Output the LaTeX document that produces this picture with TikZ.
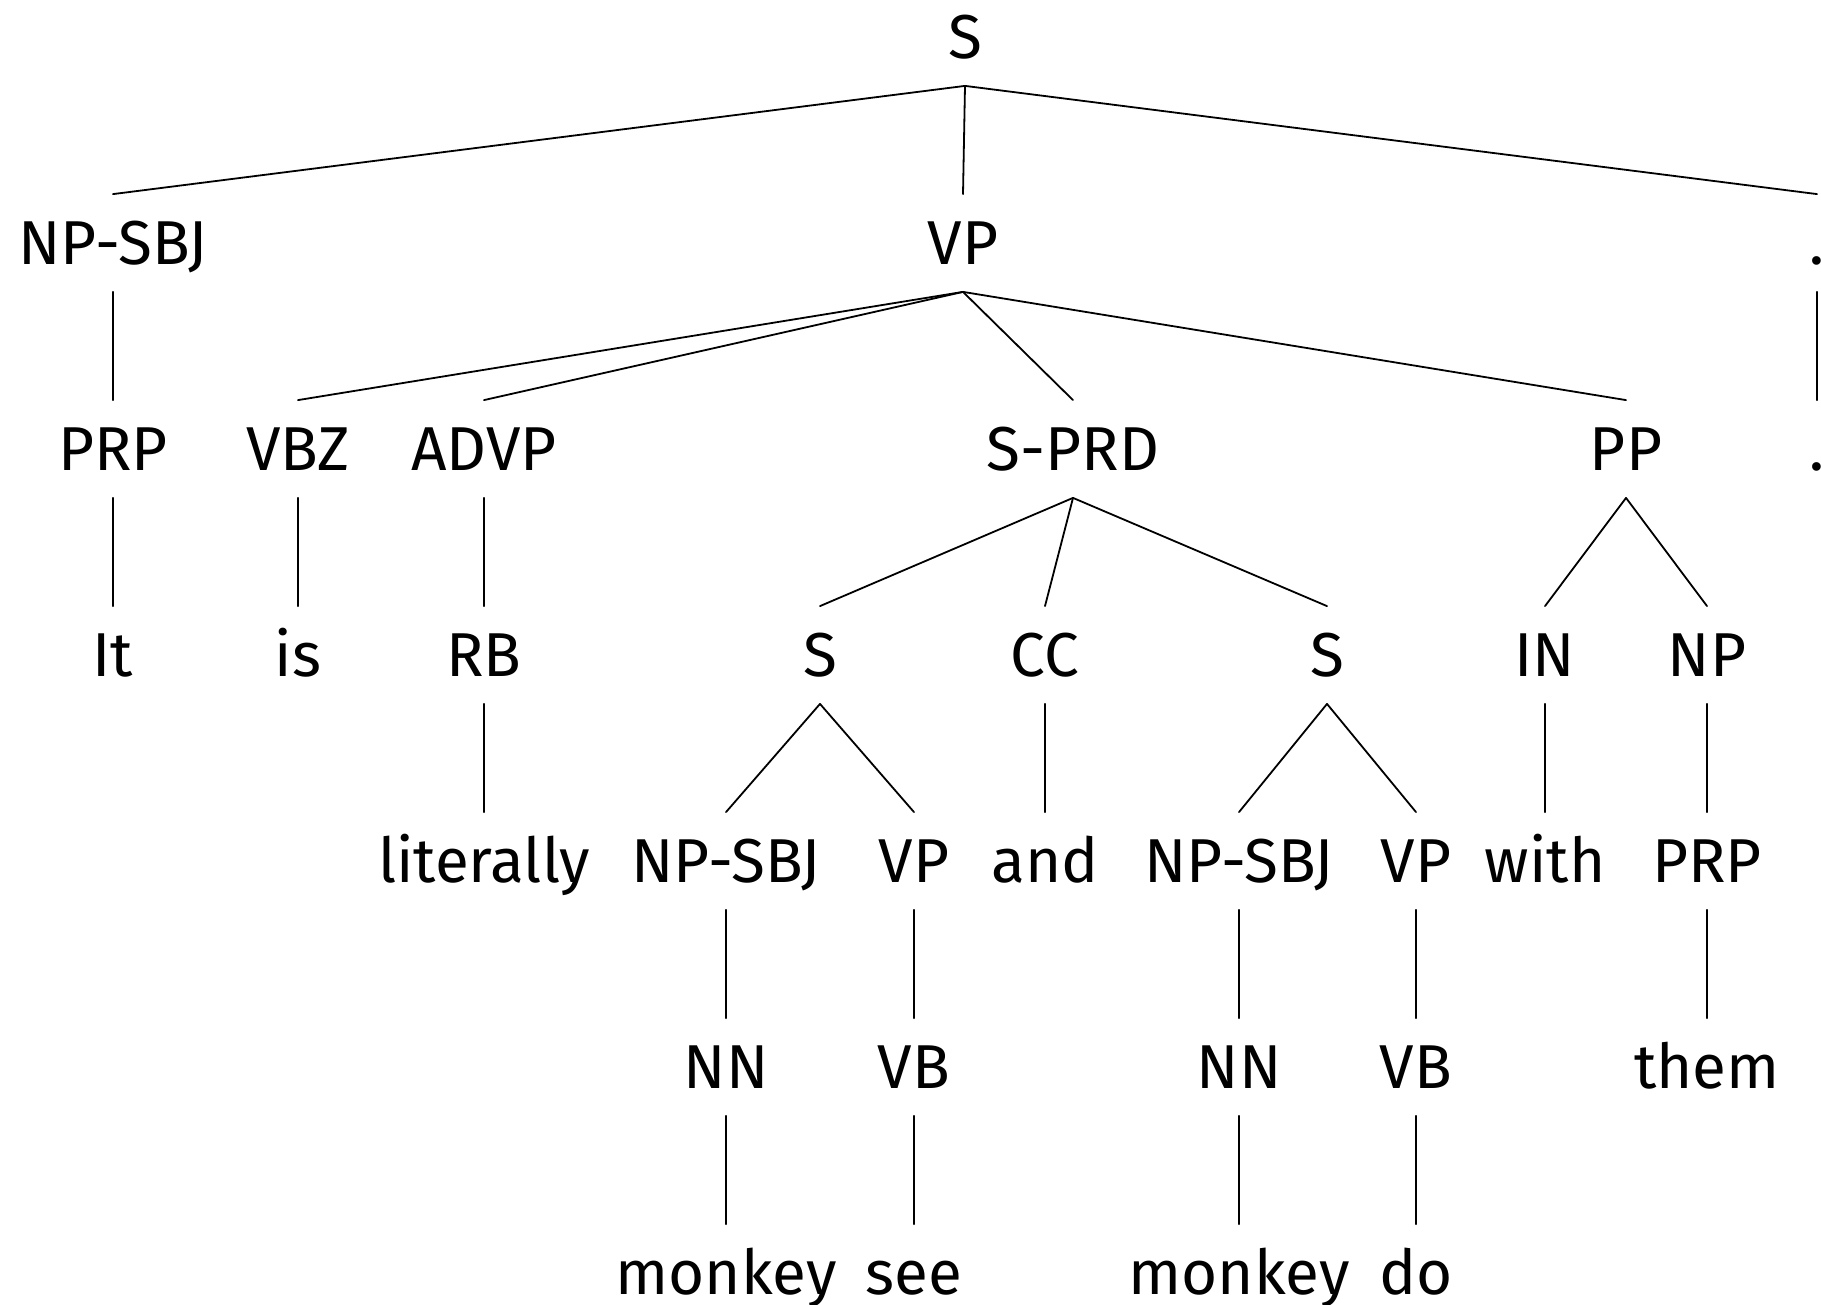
\documentclass[tikz,border=0pt]{standalone}
\usepackage{fontspec}
\setmainfont{Fira Sans}
\usepackage{tikz}
\newcommand{\treefont}{\fontsize{62}{74}\selectfont}

\begin{document}
\begin{tikzpicture}[line cap=round,line join=round,x=1pt,y=-1pt,line width=1.8pt,
  every node/.style={font=\treefont,text height=55.8pt,text depth=13.1pt,minimum height=96pt,inner sep=0pt}]
\clip (0,0) rectangle (1821,1305);
\node (s) at (965,37) {S};
\node (npsbj) at (113,243) {NP-SBJ};
\node (vp) at (963,243) {VP};
\node (dotA) at (1817,243) {.};
\node (prp) at (113,449) {PRP};
\node (vbz) at (298,449) {VBZ};
\node (advp) at (484,449) {ADVP};
\node (sprd) at (1073,449) {S-PRD};
\node (pp) at (1626,449) {PP};
\node (dotB) at (1817,449) {.};
\node (it) at (113,655) {It};
\node (is) at (298,655) {is};
\node (rb) at (484,655) {RB};
\node (sA) at (820,655) {S};
\node (cc) at (1045,655) {CC};
\node (sB) at (1327,655) {S};
\node (in) at (1545,655) {IN};
\node (np) at (1707,655) {NP};
\node (literally) at (484,861) {literally};
\node (npsbjA) at (726,861) {NP-SBJ};
\node (vpA) at (914,861) {VP};
\node (and) at (1045,861) {and};
\node (npsbjB) at (1239,861) {NP-SBJ};
\node (vpB) at (1416,861) {VP};
\node (with) at (1545,861) {with};
\node (prpB) at (1707,861) {PRP};
\node (nnA) at (726,1067) {NN};
\node (vbA) at (914,1067) {VB};
\node (nnB) at (1239,1067) {NN};
\node (vbB) at (1416,1067) {VB};
\node (them) at (1707,1067) {them};
\node (monkeyA) at (726,1273) {monkey};
\node (see) at (914,1273) {see};
\node (monkeyB) at (1239,1273) {monkey};
\node (do) at (1416,1273) {do};
\draw (s.south) -- (npsbj.north);
\draw (s.south) -- (vp.north);
\draw (s.south) -- (dotA.north);
\draw (npsbj.south) -- (prp.north);
\draw (prp.south) -- (it.north);
\draw (vp.south) -- (vbz.north);
\draw (vp.south) -- (advp.north);
\draw (vp.south) -- (sprd.north);
\draw (vp.south) -- (pp.north);
\draw (dotA.south) -- (dotB.north);
\draw (vbz.south) -- (is.north);
\draw (advp.south) -- (rb.north);
\draw (rb.south) -- (literally.north);
\draw (sprd.south) -- (sA.north);
\draw (sprd.south) -- (cc.north);
\draw (sprd.south) -- (sB.north);
\draw (pp.south) -- (in.north);
\draw (pp.south) -- (np.north);
\draw (sA.south) -- (npsbjA.north);
\draw (sA.south) -- (vpA.north);
\draw (cc.south) -- (and.north);
\draw (sB.south) -- (npsbjB.north);
\draw (sB.south) -- (vpB.north);
\draw (in.south) -- (with.north);
\draw (np.south) -- (prpB.north);
\draw (npsbjA.south) -- (nnA.north);
\draw (vpA.south) -- (vbA.north);
\draw (npsbjB.south) -- (nnB.north);
\draw (vpB.south) -- (vbB.north);
\draw (prpB.south) -- (them.north);
\draw (nnA.south) -- (monkeyA.north);
\draw (vbA.south) -- (see.north);
\draw (nnB.south) -- (monkeyB.north);
\draw (vbB.south) -- (do.north);
\end{tikzpicture}
\end{document}
